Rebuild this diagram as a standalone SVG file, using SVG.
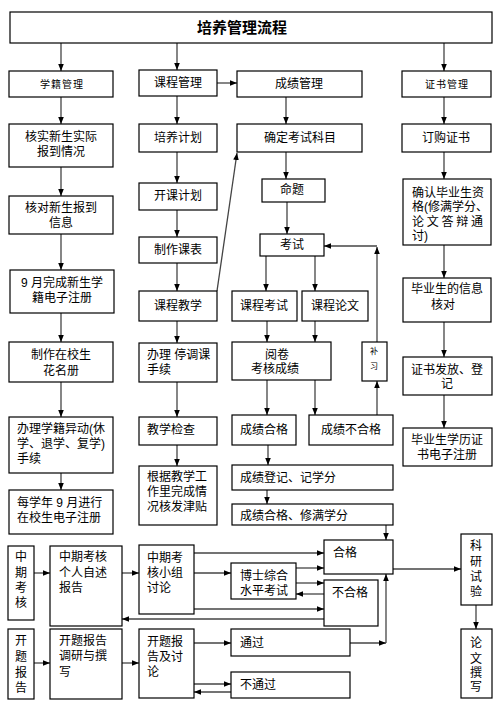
<svg xmlns="http://www.w3.org/2000/svg" width="500" height="704" viewBox="0 0 500 704">
<style>
.b{fill:#fff;stroke:#000;stroke-width:1.2}
.c{fill:none;stroke:#444;stroke-width:1.3;marker-end:url(#ah)}
text{font-family:"Liberation Sans","Noto Sans CJK SC",sans-serif;font-size:12px;fill:#000;dominant-baseline:central}
.m{text-anchor:middle}
.s{font-size:10px;letter-spacing:1px}
.t{font-size:15px;font-weight:bold}
.x{font-size:8px}
</style>
<defs>
<marker id="ah" markerUnits="userSpaceOnUse" markerWidth="7" markerHeight="7" viewBox="0 0 10 10" refX="10" refY="5" orient="auto">
<path d="M0,1 L10,5 L0,9 z" fill="#000"/>
</marker>
</defs>
<rect width="500" height="704" fill="#fff"/>
<g id="connectors">
<path class="c" d="M61,43 V71"/>
<path class="c" d="M177,43 V70"/>
<path class="c" d="M444,43 V71"/>
<path class="c" d="M217,83 H237"/>
<path class="c" d="M61,97 V124"/>
<path class="c" d="M61,167 V196"/>
<path class="c" d="M61,234 V270"/>
<path class="c" d="M61,313 V342"/>
<path class="c" d="M61,382 V417"/>
<path class="c" d="M61,473 V490"/>
<path class="c" d="M177,96 V124"/>
<path class="c" d="M177,152 V183"/>
<path class="c" d="M177,210 V237"/>
<path class="c" d="M177,263 V291"/>
<path class="c" d="M177,321 V343"/>
<path class="c" d="M177,382 V417"/>
<path class="c" d="M177,445 V466"/>
<path class="c" d="M217,291 L237,153"/>
<path class="c" d="M286,97 V124"/>
<path class="c" d="M286,152 V179"/>
<path class="c" d="M287,202 V234"/>
<path class="c" d="M266,256 V291"/>
<path class="c" d="M315,256 V291"/>
<path class="c" d="M267,321 V342"/>
<path class="c" d="M315,321 V342"/>
<path class="c" d="M267,380 V415"/>
<path class="c" d="M315,380 V415"/>
<path class="c" d="M377,415 V381"/>
<path class="c" d="M377,342 V247"/>
<path class="c" d="M377,246 H324"/>
<path class="c" d="M268,445 V465"/>
<path class="c" d="M267,490 V504"/>
<path class="c" d="M386,525 V540"/>
<path class="c" d="M444,97 V124"/>
<path class="c" d="M444,152 V179"/>
<path class="c" d="M444,245 V278"/>
<path class="c" d="M444,322 V357"/>
<path class="c" d="M444,395 V428"/>
<path class="c" d="M34,573 H50"/>
<path class="c" d="M122,573 H139"/>
<path class="c" d="M194,553 H324"/>
<path class="c" d="M194,573 H231"/>
<path class="c" d="M296,568 H324"/>
<path class="c" d="M296,583 H324"/>
<path class="c" d="M324,594 H296"/>
<path class="c" d="M194,609 H324"/>
<path class="c" d="M324,619 H122"/>
<path class="c" d="M393,569 H461"/>
<path class="c" d="M476,605 V629"/>
<path class="c" d="M34,663 H50"/>
<path class="c" d="M122,663 H139"/>
<path class="c" d="M194,643 H231"/>
<path class="c" d="M350,643 H386"/>
<path class="c" d="M386,643 V574"/>
<path class="c" d="M194,684 H231"/>
<path class="c" d="M231,692 H194"/>
</g>
<g id="title"><rect class="b" x="10" y="12" width="482" height="31"/><text class="t m" x="242" y="27">培养管理流程</text></g>
<g id="xueji"><rect class="b" x="9" y="71" width="104" height="26"/><text class="s m" x="62" y="84">学籍管理</text></g>
<g id="kecheng"><rect class="b" x="139" y="70" width="78" height="26"/><text class="m" x="178" y="83">课程管理</text></g>
<g id="chengji"><rect class="b" x="237" y="71" width="125" height="26"/><text class="m" x="299" y="84">成绩管理</text></g>
<g id="zhengshu"><rect class="b" x="402" y="71" width="89" height="26"/><text class="s m" x="447" y="84">证书管理</text></g>
<g id="hesi"><rect class="b" x="9" y="124" width="104" height="43"/><text class="m" x="61" y="137">核实新生实际</text><text class="m" x="61" y="152">报到情况</text></g>
<g id="hedui"><rect class="b" x="9" y="196" width="104" height="38"/><text class="m" x="61" y="208">核对新生报到</text><text class="m" x="61" y="223">信息</text></g>
<g id="zhuce9"><rect class="b" x="10" y="270" width="104" height="43"/><text class="m" x="62" y="283">9 月完成新生学</text><text class="m" x="62" y="298">籍电子注册</text></g>
<g id="huamingce"><rect class="b" x="9" y="342" width="104" height="40"/><text class="m" x="61" y="355">制作在校生</text><text class="m" x="61" y="371">花名册</text></g>
<g id="yidong"><rect class="b" x="9" y="417" width="104" height="56"/><text x="17" y="429">办理学籍异动(休</text><text x="17" y="444">学、退学、复学)</text><text x="17" y="459">手续</text></g>
<g id="meixuenian"><rect class="b" x="9" y="490" width="104" height="44"/><text x="17" y="503">每学年 9 月进行</text><text x="17" y="518">在校生电子注册</text></g>
<g id="peiyang"><rect class="b" x="139" y="124" width="78" height="28"/><text class="m" x="178" y="138">培养计划</text></g>
<g id="kaike"><rect class="b" x="139" y="183" width="78" height="27"/><text class="m" x="178" y="196">开课计划</text></g>
<g id="kebiao"><rect class="b" x="139" y="237" width="78" height="26"/><text class="m" x="178" y="250">制作课表</text></g>
<g id="jiaoxue"><rect class="b" x="139" y="291" width="78" height="30"/><text class="m" x="178" y="306">课程教学</text></g>
<g id="tingtiao"><rect class="b" x="139" y="343" width="78" height="39"/><text x="147" y="355">办理 停调课</text><text x="147" y="370">手续</text></g>
<g id="jiancha"><rect class="b" x="139" y="417" width="78" height="28"/><text x="147" y="430">教学检查</text></g>
<g id="jintie"><rect class="b" x="139" y="466" width="78" height="59"/><text x="147" y="477">根据教学工</text><text x="147" y="492">作里完成情</text><text x="147" y="507">况核发津贴</text></g>
<g id="queding"><rect class="b" x="237" y="124" width="125" height="28"/><text class="m" x="300" y="138">确定考试科目</text></g>
<g id="mingti"><rect class="b" x="262" y="179" width="63" height="23"/><text class="m" x="292" y="190">命题</text></g>
<g id="kaoshi"><rect class="b" x="260" y="234" width="64" height="22"/><text class="m" x="292" y="245">考试</text></g>
<g id="kckaoshi"><rect class="b" x="232" y="291" width="65" height="30"/><text class="m" x="264" y="306">课程考试</text></g>
<g id="kclunwen"><rect class="b" x="302" y="291" width="66" height="30"/><text class="m" x="335" y="306">课程论文</text></g>
<g id="yuejuan"><rect class="b" x="232" y="342" width="99" height="38"/><text class="m" x="277" y="355">阅卷</text><text class="m" x="275" y="369">考核成绩</text></g>
<g id="buxi"><rect class="b" x="362" y="342" width="25" height="39"/><text class="x m" x="374" y="351">补</text><text class="x m" x="374" y="366">习</text></g>
<g id="hege"><rect class="b" x="232" y="415" width="64" height="30"/><text class="m" x="264" y="430">成绩合格</text></g>
<g id="buhege"><rect class="b" x="309" y="415" width="84" height="30"/><text class="m" x="351" y="430">成绩不合格</text></g>
<g id="dengji"><rect class="b" x="232" y="465" width="161" height="25"/><text x="240" y="478">成绩登记、记学分</text></g>
<g id="xiuman"><rect class="b" x="232" y="504" width="161" height="21"/><text x="240" y="516">成绩合格、修满学分</text></g>
<g id="dinggou"><rect class="b" x="402" y="124" width="89" height="28"/><text class="m" x="446" y="138">订购证书</text></g>
<g id="queren"><rect class="b" x="403" y="179" width="88" height="66"/><text x="412" y="193">确认毕业生资</text><text x="412" y="207">格(修满学分、</text><text x="412" y="222" textLength="71" lengthAdjust="spacing">论文答辩通</text><text x="412" y="236">讨)</text></g>
<g id="xinxi"><rect class="b" x="403" y="278" width="88" height="44"/><text class="m" x="447" y="289">毕业生的信息</text><text class="m" x="443" y="305">核对</text></g>
<g id="fafang"><rect class="b" x="403" y="357" width="89" height="38"/><text class="m" x="447" y="370">证书发放、登</text><text class="m" x="447" y="384">记</text></g>
<g id="xueli"><rect class="b" x="403" y="428" width="89" height="38"/><text class="m" x="447" y="440">毕业生学历证</text><text class="m" x="447" y="455">书电子注册</text></g>
<g id="zhongqi"><rect class="b" x="8" y="546" width="26" height="74"/><text class="m" x="21" y="557">中</text><text class="m" x="21" y="573">期</text><text class="m" x="21" y="588">考</text><text class="m" x="21" y="603">核</text></g>
<g id="zqgeren"><rect class="b" x="50" y="546" width="72" height="80"/><text x="59" y="557">中期考核</text><text x="59" y="573">个人自述</text><text x="59" y="588">报告</text></g>
<g id="zqxiaozu"><rect class="b" x="139" y="545" width="55" height="69"/><text x="147" y="558">中期考</text><text x="147" y="573">核小组</text><text x="147" y="588">讨论</text></g>
<g id="hege2"><rect class="b" x="324" y="540" width="69" height="34"/><text x="333" y="553">合格</text></g>
<g id="boshi"><rect class="b" x="231" y="563" width="65" height="36"/><text x="240" y="576">博士综合</text><text x="240" y="591">水平考试</text></g>
<g id="buhege2"><rect class="b" x="324" y="580" width="54" height="46"/><text x="332" y="593">不合格</text></g>
<g id="kaiti"><rect class="b" x="8" y="629" width="26" height="70"/><text class="m" x="21" y="641">开</text><text class="m" x="21" y="657">题</text><text class="m" x="21" y="673">报</text><text class="m" x="21" y="688">告</text></g>
<g id="ktdiaoyan"><rect class="b" x="50" y="629" width="72" height="70"/><text x="59" y="641">开题报告</text><text x="59" y="656">调研与撰</text><text x="59" y="672">写</text></g>
<g id="kttaolun"><rect class="b" x="139" y="629" width="55" height="69"/><text x="147" y="642">开题报</text><text x="147" y="657">告及讨</text><text x="147" y="672">论</text></g>
<g id="tongguo"><rect class="b" x="231" y="629" width="119" height="27"/><text x="240" y="643">通过</text></g>
<g id="butongguo"><rect class="b" x="231" y="672" width="119" height="26"/><text x="240" y="685">不通过</text></g>
<g id="keyan"><rect class="b" x="461" y="534" width="31" height="71"/><text class="m" x="476" y="546">科</text><text class="m" x="476" y="562">研</text><text class="m" x="476" y="577">试</text><text class="m" x="476" y="592">验</text></g>
<g id="lunwen"><rect class="b" x="461" y="629" width="31" height="69"/><text class="m" x="476" y="643">论</text><text class="m" x="476" y="659">文</text><text class="m" x="476" y="673">撰</text><text class="m" x="476" y="687">写</text></g>
</svg>
